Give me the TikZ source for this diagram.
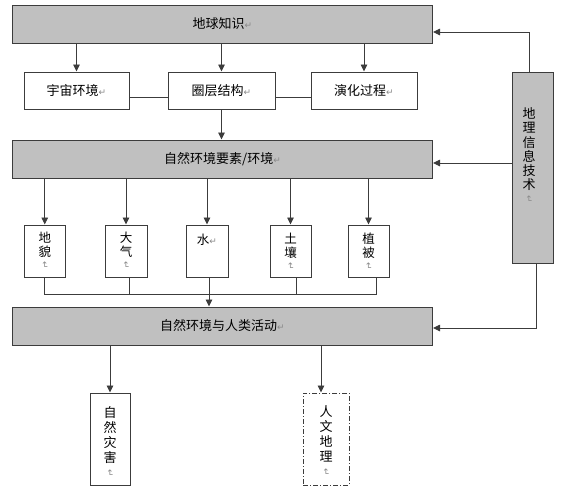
\documentclass[tikz,border=0pt]{standalone}
\usepackage{fontspec}
\newfontfamily\cjk{Noto Sans CJK SC}
\newfontfamily\symfont{DejaVu Sans}
\usetikzlibrary{arrows.meta,positioning}
\definecolor{boxgray}{HTML}{C0C0C0}
\definecolor{linegray}{HTML}{3C3C3C}
\definecolor{markgray}{HTML}{8A8A8A}
\newcommand{\retmark}{{\symfont\fontsize{9}{9}\selectfont\color{markgray}↵}}
\newcommand{\vretmark}{\rotatebox[origin=c]{-90}{\retmark}}
\tikzset{
    box/.style={draw=linegray, line width=1pt, fill=white, inner sep=0pt, font=\cjk\fontsize{13}{15}\selectfont},
    graybox/.style={box, fill=boxgray},
    arr/.style={draw=linegray, line width=0.9pt, -{Triangle[length=7pt,width=6.5pt]}},
    line/.style={draw=linegray, line width=0.9pt},
    vtext/.style={align=center, inner sep=0pt, font=\cjk\fontsize{12.5}{14}\selectfont},
}

\begin{document}
\begin{tikzpicture}[x=1pt,y=-1pt]
    \useasboundingbox (0,0) rectangle (561,493);
    \node[graybox, minimum width=420pt, minimum height=38pt] (earth) at (222.5,24) {地球知识\retmark};
    \node[box, minimum width=105pt, minimum height=37pt] (universe) at (76.5,90.5) {宇宙环境\retmark};
    \node[box, minimum width=107pt, minimum height=37pt] (layer) at (221.5,90.5) {圈层结构\retmark};
    \node[box, minimum width=106pt, minimum height=37pt] (evol) at (364,90.5) {演化过程\retmark};
    \node[graybox, minimum width=420pt, minimum height=38pt] (env) at (222.5,159) {自然环境要素/环境\retmark};
    \node[graybox, minimum width=41pt, minimum height=191pt] (tech) at (532.5,167.5) {};
    \node[vtext, font=\cjk\fontsize{13}{14.2}\selectfont, below=36pt of tech.north, xshift=-3.5pt] (techtext) {地\\理\\信\\息\\技\\术\\[-2pt]\vretmark};

    \node[box, minimum width=41.5pt, minimum height=52pt] (dimao) at (44.75,251) {};
    \node[box, minimum width=42pt, minimum height=52pt] (daqi) at (126,251) {};
    \node[box, minimum width=42pt, minimum height=52pt] (shui) at (207,251) {};
    \node[box, minimum width=41pt, minimum height=52pt] (turang) at (290.5,251) {};
    \node[box, minimum width=41pt, minimum height=52pt] (zhibei) at (368.5,251) {};
    \node[vtext, below=7pt of dimao.north] (dimaotext) {地\\貌\\[-2pt]\vretmark};
    \node[vtext, below=7pt of daqi.north] (daqitext) {大\\气\\[-2pt]\vretmark};
    \node[vtext, below=9pt of shui.north] (shuitext) {水\retmark};
    \node[vtext, below=8pt of turang.north] (turangtext) {土\\壤\\[-2pt]\vretmark};
    \node[vtext, below=8pt of zhibei.north] (zhibeitext) {植\\被\\[-2pt]\vretmark};

    \node[graybox, minimum width=420pt, minimum height=38pt] (human) at (222.5,326) {自然环境与人类活动\retmark};
    \node[box, minimum width=40pt, minimum height=92pt] (ziran) at (110,439) {};
    \node[box, dash pattern=on 5pt off 2pt on 1pt off 2pt, minimum width=46pt, minimum height=92pt] (renwen) at (326,439) {};
    \node[vtext, font=\cjk\fontsize{13}{15}\selectfont, below=14pt of ziran.north] (zirantext) {自\\然\\灾\\害\\[-2pt]\vretmark};
    \node[vtext, font=\cjk\fontsize{13}{15}\selectfont, below=13pt of renwen.north] (renwentext) {人\\文\\地\\理\\[-2pt]\vretmark};

    \draw[arr] (universe |- earth.south) -- (universe.north);
    \draw[arr] (layer |- earth.south) -- (layer.north);
    \draw[arr] (evol |- earth.south) -- (evol.north);
    \draw[line] ([yshift=-6.5pt]universe.east) -- ([yshift=-6.5pt]layer.west);
    \draw[line] ([yshift=-6.5pt]layer.east) -- ([yshift=-6.5pt]evol.west);
    \draw[arr] (layer.south) -- (layer.south |- env.north);

    \draw[arr] (dimao |- env.south) -- (dimao.north);
    \draw[arr] (daqi |- env.south) -- (daqi.north);
    \draw[arr] (shui |- env.south) -- (shui.north);
    \draw[arr] (turang |- env.south) -- (turang.north);
    \draw[arr] (zhibei |- env.south) -- (zhibei.north);

    \coordinate (join) at (209,294);
    \coordinate (tr) at ([xshift=5.5pt]turang.south);
    \coordinate (zb) at ([xshift=7.5pt]zhibei.south);
    \draw[line] (dimao.south) |- (zb |- join) -- (zb);
    \draw[line] ([xshift=3pt]daqi.south) -- ([xshift=3pt]daqi.south |- join);
    \draw[line] (tr) -- (tr |- join);
    \draw[arr] ([xshift=2pt]shui.south) -- ([xshift=2pt]shui.south |- human.north);

    \coordinate (techtop) at ([xshift=-3.5pt]tech.north);
    \coordinate (techin) at ([yshift=4.5pt]tech.west);
    \coordinate (techbot) at ([xshift=3.5pt]tech.south);
    \draw[arr] (techtop) |- ([yshift=-8pt]earth.east);
    \draw[arr] (techin) -- (techin -| env.east);
    \draw[arr] (techbot) |- ([yshift=-2pt]human.east);

    \coordinate (rwtop) at ([xshift=-5pt]renwen.north);
    \draw[arr] (ziran |- human.south) -- (ziran.north);
    \draw[arr] (rwtop |- human.south) -- (rwtop);
\end{tikzpicture}
\end{document}
